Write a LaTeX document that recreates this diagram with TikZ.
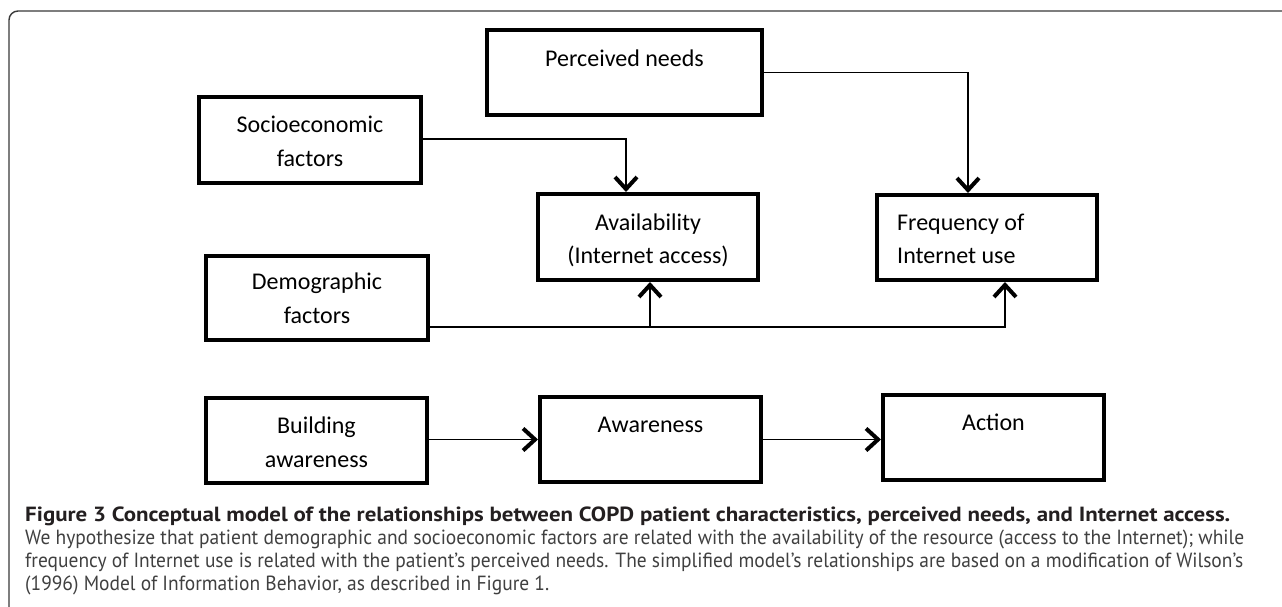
\documentclass[tikz,border=0pt]{standalone}
\usepackage{fontspec}
\usepackage{graphicx}
\setmainfont{Carlito}
\newfontfamily\capfont{PT Sans}
\usetikzlibrary{arrows.meta}
\definecolor{framec}{HTML}{3A3A3A}
\definecolor{capbold}{HTML}{231F20}
\definecolor{capreg}{HTML}{404040}
\begin{document}
\begin{tikzpicture}[x=1pt,y=-1pt,
  box/.style={draw=black,line width=4pt,rectangle,inner sep=0pt},
  conn/.style={line width=1.5pt,-{Straight Barb[length=12pt,width=22pt,line width=4pt]}},
  lbl/.style={font=\fontsize{24}{34}\selectfont,inner sep=0pt,anchor=base},
  lblw/.style={font=\fontsize{24}{34}\selectfont,inner sep=0pt,anchor=base west},
  capb/.style={font=\capfont\bfseries\fontsize{20.5}{23}\selectfont,text=capbold,inner sep=0pt,anchor=base west},
  capr/.style={font=\capfont\fontsize{20.5}{23}\selectfont,text=capreg,inner sep=0pt,anchor=base west}
]
\useasboundingbox (0,0) rectangle (1282,607);
\fill[white] (0,0) rectangle (1282,607);
% frame
\draw[framec,line width=1.4pt,rounded corners=9pt] (9,620) -- (9,11) -- (1295,11);

% boxes
\node[box,minimum width=275pt,minimum height=85pt] (perc) at (624.5,72.5) {};
\node[box,minimum width=222pt,minimum height=86pt] (socio) at (310,140) {};
\node[box,minimum width=220pt,minimum height=86pt] (avail) at (648,237) {};
\node[box,minimum width=220pt,minimum height=85pt] (freq) at (987,237.5) {};
\node[box,minimum width=222pt,minimum height=84pt] (demo) at (317,298) {};
\node[box,minimum width=221pt,minimum height=85pt] (build) at (316.5,440.5) {};
\node[box,minimum width=221pt,minimum height=85pt] (aware) at (650.5,439.5) {};
\node[box,minimum width=221pt,minimum height=85pt] (action) at (993.5,437.5) {};

% texts
\node[lbl] (perc-t) at (624.5,67) {Perceived needs};
\node[lbl] (socio-t1) at (310,132) {Socioeconomic};
\node[lbl] (socio-t2) at (310,166) {factors};
\node[lbl] (avail-t1) at (648,230) {Availability};
\node[lbl] (avail-t2) at (648,263) {(Internet access)};
\node[lblw] (freq-t1) at (897,230) {Frequency of};
\node[lblw] (freq-t2) at (897,263) {Internet use};
\node[lbl] (demo-t1) at (317,289) {Demographic};
\node[lbl] (demo-t2) at (317,323) {factors};
\node[lbl] (build-t1) at (316.5,433) {Building};
\node[lbl] (build-t2) at (316.5,467) {awareness};
\node[lbl] (aware-t) at (650.5,432) {Awareness};
\node[lbl] (action-t) at (993.5,430) {Action};

% connectors
\draw[conn] ([yshift=1pt]socio.east) -| ([xshift=-22pt]avail.north);
\draw[conn] (perc.east) -| ([xshift=-19pt]freq.north);
\coordinate (demo-out) at ([yshift=-29pt]demo.east);
\draw[conn] (demo-out) -| ([xshift=18pt]freq.south);
\coordinate (branch) at ([xshift=2pt]avail.south |- demo-out);
\draw[conn] (branch) -- ([xshift=2pt]avail.south);
\draw[conn] (build.east |- aware.east) -- (aware.west);
\draw[conn] (aware.east) -- (action.west |- aware.east);

% caption
\node[capb] (cap1) at (25,521) {\resizebox{1205pt}{\height}{Figure 3 Conceptual model of the relationships between COPD patient characteristics, perceived needs, and Internet access.}};
\node[capr] (cap2) at (25,544) {\resizebox{1219pt}{\height}{We hypothesize that patient demographic and socioeconomic factors are related with the availability of the resource (access to the Internet); while}};
\node[capr] (cap3) at (25,567) {\resizebox{1218pt}{\height}{frequency of Internet use is related with the patient’s perceived needs. The simplified model’s relationships are based on a modification of Wilson’s}};
\node[capr] (cap4) at (25,590) {\resizebox{!}{\height}{\scalebox{0.95}[1]{(1996) Model of Information Behavior, as described in Figure 1.}}};
\end{tikzpicture}
\end{document}
